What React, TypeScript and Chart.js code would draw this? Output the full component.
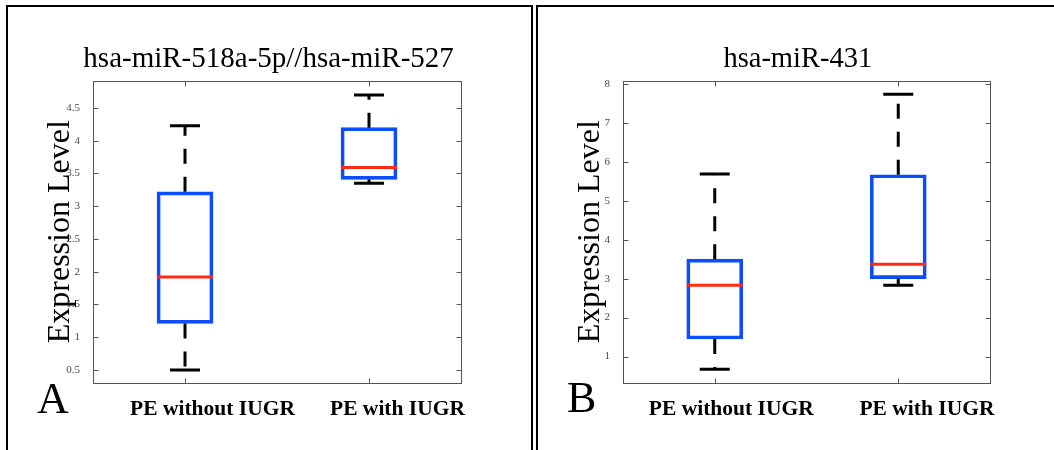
import React, { useEffect, useRef } from 'react';
import { Chart, registerables } from 'chart.js';

Chart.register(...registerables);

// ---------- data ----------
const groups = ['PE without IUGR', 'PE with IUGR'];
const yAxisLabel = 'Expression Level';

const titleA = 'hsa-miR-518a-5p//hsa-miR-527';
const lowA = [0.5, 3.35];
const q1A = [1.21, 3.41];
const medA = [1.92, 3.59];
const q3A = [3.22, 4.2];
const highA = [4.23, 4.7];
const yTicksA = [0.5, 1, 1.5, 2, 2.5, 3, 3.5, 4, 4.5];
const yTickLabelsA = ['0.5', '1', '1.5', '2', '2.5', '3', '3.5', '4', '4.5'];

const titleB = 'hsa-miR-431';
const lowB = [0.67, 2.83];
const q1B = [1.45, 3.0];
const medB = [2.83, 3.37];
const q3B = [3.5, 5.67];
const highB = [5.69, 7.74];
const yTicksB = [1, 2, 3, 4, 5, 6, 7, 8];
const yTickLabelsB = ['1', '2', '3', '4', '5', '6', '7', '8'];

// ---------- styles ----------
const W = 1054;
const H = 450;
const SERIF = "'Liberation Serif', 'Times New Roman', serif";
const BLUE = '#0B4DFF';
const RED = '#FF2B12';

type Panel = {
  title: string;
  low: number[]; q1: number[]; med: number[]; q3: number[]; high: number[];
  yTicks: number[]; yTickLabels: string[];
  yMin: number; yMax: number;
  padding: { left: number; top: number; right: number; bottom: number };
  titleX: number; titleSize: number;
  yTitleX: number;
  letter: string; letterX: number; letterY: number;
  labelOffsets: number[];
};

const panels: Panel[] = [
  {
    title: titleA, low: lowA, q1: q1A, med: medA, q3: q3A, high: highA,
    yTicks: yTicksA, yTickLabels: yTickLabelsA, yMin: 0.3, yMax: 4.92,
    padding: { left: 0, top: 80.5, right: W - 461, bottom: 67 },
    titleX: 268.6, titleSize: 29, yTitleX: 69,
    letter: 'A', letterX: 37, letterY: 413, labelOffsets: [27.5, 28.5],
  },
  {
    title: titleB, low: lowB, q1: q1B, med: medB, q3: q3B, high: highB,
    yTicks: yTicksB, yTickLabels: yTickLabelsB, yMin: 0.32, yMax: 8.09,
    padding: { left: 530, top: 80.5, right: W - 990, bottom: 67 },
    titleX: 797.8, titleSize: 28.5, yTitleX: 598.5,
    letter: 'B', letterX: 567, letterY: 412, labelOffsets: [16.5, 28.7],
  },
];

const boxExtras = {
  id: 'boxExtras',
  afterDatasetsDraw(chart: any, _args: any, opts: any) {
    const p: Panel = opts.panel;
    const { ctx, chartArea: ca, scales } = chart;
    const x = scales.x;
    const y = scales.y;
    ctx.save();
    // frame
    ctx.strokeStyle = '#555';
    ctx.lineWidth = 1;
    ctx.setLineDash([]);
    const L = Math.round(ca.left) + 0.5;
    const R = Math.round(ca.right) + 0.5;
    const T = Math.round(ca.top) + 0.5;
    const B = Math.round(ca.bottom) + 0.5;
    ctx.strokeRect(L, T, R - L, B - T);
    ctx.beginPath();
    for (const t of y.ticks) {
      const py = Math.round(y.getPixelForValue(t.value)) + 0.5;
      ctx.moveTo(L, py); ctx.lineTo(L + 5, py);
      ctx.moveTo(R - 5, py); ctx.lineTo(R, py);
    }
    groups.forEach((_g, i) => {
      const px = Math.round(x.getPixelForValue(i)) + 0.5;
      ctx.moveTo(px, B); ctx.lineTo(px, B - 5);
      ctx.moveTo(px, T); ctx.lineTo(px, T + 5);
    });
    ctx.stroke();

    // whiskers + medians
    groups.forEach((_g, i) => {
      const cx = x.getPixelForValue(i);
      const yq1 = y.getPixelForValue(p.q1[i]);
      const yq3 = y.getPixelForValue(p.q3[i]);
      const ylo = y.getPixelForValue(p.low[i]);
      const yhi = y.getPixelForValue(p.high[i]);
      const ym = y.getPixelForValue(p.med[i]);
      ctx.strokeStyle = '#000';
      ctx.lineWidth = 3;
      ctx.lineCap = 'butt';
      ctx.setLineDash([15, 13]);
      ctx.beginPath();
      ctx.moveTo(cx, yq3); ctx.lineTo(cx, yhi);
      ctx.stroke();
      ctx.beginPath();
      ctx.moveTo(cx, yq1); ctx.lineTo(cx, ylo);
      ctx.stroke();
      ctx.setLineDash([]);
      ctx.beginPath();
      ctx.moveTo(cx - 15, yhi); ctx.lineTo(cx + 15, yhi);
      ctx.moveTo(cx - 15, ylo); ctx.lineTo(cx + 15, ylo);
      ctx.stroke();
      ctx.strokeStyle = RED;
      ctx.beginPath();
      ctx.moveTo(cx - 28, ym); ctx.lineTo(cx + 28, ym);
      ctx.stroke();
    });
    ctx.restore();
  },
  afterDraw(chart: any, _args: any, opts: any) {
    const p: Panel = opts.panel;
    const { ctx, chartArea: ca, scales } = chart;
    const x = scales.x;
    ctx.save();
    ctx.fillStyle = '#000';
    // title
    ctx.font = `${p.titleSize}px ${SERIF}`;
    ctx.textAlign = 'center';
    ctx.textBaseline = 'alphabetic';
    ctx.fillText(p.title, p.titleX, 66.7);
    // x labels
    ctx.font = `bold 21.5px ${SERIF}`;
    groups.forEach((g, i) => {
      ctx.fillText(g, x.getPixelForValue(i) + p.labelOffsets[i], 415);
    });
    // y title
    ctx.save();
    ctx.translate(p.yTitleX, (ca.top + ca.bottom) / 2);
    ctx.rotate(-Math.PI / 2);
    ctx.font = `32px ${SERIF}`;
    ctx.textAlign = 'center';
    ctx.fillText(yAxisLabel, 0, 0);
    ctx.restore();
    // panel letter
    ctx.font = `44px ${SERIF}`;
    ctx.textAlign = 'left';
    ctx.fillText(p.letter, p.letterX, p.letterY);
    ctx.restore();
  },
};

function BoxPanel({ panel }: { panel: Panel }) {
  const ref = useRef<HTMLCanvasElement>(null);
  useEffect(() => {
    if (!ref.current) return;
    const chart = new Chart(ref.current, {
      type: 'bar',
      data: {
        labels: groups,
        datasets: [
          {
            data: groups.map((_g, i) => [panel.q1[i], panel.q3[i]]) as any,
            backgroundColor: 'rgba(0,0,0,0)',
            borderColor: BLUE,
            borderWidth: 3,
            borderSkipped: false,
            barThickness: 56,
          },
        ],
      },
      options: {
        animation: false,
        responsive: false,
        devicePixelRatio: 1,
        layout: { padding: panel.padding },
        scales: {
          x: { type: 'category', display: false, offset: true },
          y: {
            min: panel.yMin,
            max: panel.yMax,
            afterFit: (s: any) => { s.width = 93; },
            afterBuildTicks: (s: any) => { s.ticks = panel.yTicks.map((v) => ({ value: v })); },
            ticks: {
              callback: (v: any) => panel.yTickLabels[panel.yTicks.indexOf(Number(v))] ?? '',
              font: { family: SERIF, size: 11 },
              color: '#4a4a4a',
              padding: 5,
            },
            grid: { display: false },
            border: { display: false },
          },
        },
        plugins: {
          legend: { display: false },
          tooltip: { enabled: false },
          title: { display: false },
          boxExtras: { panel },
        } as any,
      },
      plugins: [boxExtras],
    });
    return () => chart.destroy();
  }, [panel]);
  return (
    <canvas
      ref={ref}
      width={W}
      height={H}
      style={{ position: 'absolute', left: 0, top: 0, width: W, height: H }}
    />
  );
}

export default function App() {
  return (
    <div style={{ position: 'absolute', left: 0, top: 0, width: W, height: H, background: '#fff', overflow: 'hidden' }}>
      <div style={{ position: 'absolute', left: 6, top: 5, width: 523, height: 500, border: '2px solid #000' }} />
      <div style={{ position: 'absolute', left: 536, top: 5, width: 600, height: 500, border: '2px solid #000' }} />
      {panels.map((p, i) => (
        <BoxPanel key={i} panel={p} />
      ))}
    </div>
  );
}
